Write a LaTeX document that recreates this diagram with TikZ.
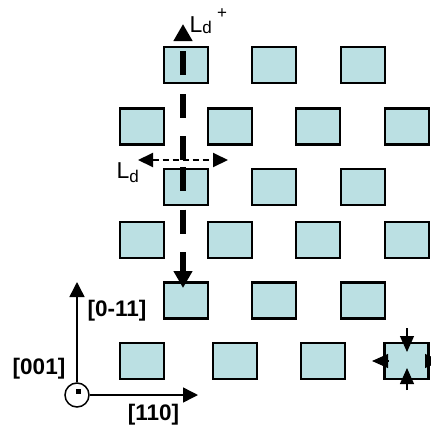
\documentclass[tikz,border=0pt]{standalone}
\usepackage{fontspec}
\setmainfont{Liberation Sans}
\usetikzlibrary{positioning,arrows.meta}
\definecolor{cell}{HTML}{BBE0E3}
\tikzset{
  isle/.style={draw=black, fill=cell, line width=2.2pt, minimum width=44pt,
               minimum height=36pt, inner sep=0pt},
  strain/.style={-{Triangle[length=17pt,width=18pt]}, line width=6pt,
                 dash pattern=on 24pt off 18.5pt},
  pitch/.style={{Triangle[length=15pt,width=14pt]}-{Triangle[length=15pt,width=14pt]},
                line width=2pt, dash pattern=on 6pt off 4pt},
  axis/.style={-{Triangle[length=15pt,width=15pt]}, line width=1.5pt},
  push/.style={-{Triangle[length=16pt,width=14pt]}, line width=1.2pt},
  dir/.style={font=\fontsize{22.5}{22.5}\selectfont\bfseries, inner sep=0pt},
  len/.style={font=\fontsize{23}{23}\selectfont, inner sep=0pt, anchor=base west},
}

\begin{document}
\begin{tikzpicture}[x=1pt, y=-1pt]
\useasboundingbox (0,0) rectangle (431,426);
% --- islands, row by row ---
\node[isle] (a1) at (186,65)  {};
\node[isle] (a2) at (274,65)  {};
\node[isle] (a3) at (363,65)  {};
\node[isle] (b1) at (142,126.5) {};
\node[isle] (b2) at (230,126.5) {};
\node[isle] (b3) at (318,126.5) {};
\node[isle] (b4) at (407,126.5) {};
\node[isle] (c1) at (186,187) {};
\node[isle] (c2) at (274,187) {};
\node[isle] (c3) at (363,187) {};
\node[isle] (d1) at (142,240) {};
\node[isle] (d2) at (230,240) {};
\node[isle] (d3) at (318,240) {};
\node[isle] (d4) at (407,240) {};
\node[isle] (e1) at (186,300.5) {};
\node[isle] (e2) at (274,300.5) {};
\node[isle] (e3) at (363,300.5) {};
\node[isle] (f1) at (142,361) {};
\node[isle] (f2) at (235,361) {};
\node[isle] (f3) at (323,361) {};
\node[isle] (f4) at (406.5,361) {};

% --- strain along the column ---
\coordinate (midup) at (183,160);
\coordinate (middn) at (183,167);
\coordinate (uptip) at (183,24);
\coordinate (dntip) at (183,288);
\draw[strain] (midup) -- (uptip);
\draw[strain] (middn) -- (dntip);
\node[len] (ldup) at (189.5,32) {L\raisebox{-1pt}{\fontsize{17}{17}\selectfont d}};
\node[inner sep=0pt, font=\fontsize{17}{17}\selectfont] (ldplus) at (222,14) {+};

% --- period in plane ---
\coordinate (ldl) at (138,160);
\coordinate (ldr) at (228,160);
\draw[pitch] (ldl) -- (ldr);
\node[len] (ldin) at (116.5,178) {L\raisebox{-4pt}{\fontsize{17}{17}\selectfont d}};

% --- stress on the corner island ---
\coordinate (ptop) at (407,328);
\coordinate (ptopx) at (407,352);
\coordinate (pbot) at (407,390);
\coordinate (pbotx) at (407,368);
\coordinate (pleft) at (388,361);
\coordinate (pleftx) at (372,361);
\coordinate (pright) at (425,361);
\coordinate (prightx) at (441,361);
\draw[push] (ptop) -- (ptopx);
\draw[push] (pbot) -- (pbotx);
\draw[push] (pleft) -- (pleftx);
\draw[push] (pright) -- (prightx);

% --- crystal axes ---
\node[circle, draw, line width=1.5pt, minimum size=24pt, inner sep=0pt] (org) at (77,395) {};
\node[fill=black, minimum size=5pt, inner sep=0pt] (dot) at (78,391) {};
\coordinate (ytip) at (77,282);
\coordinate (xtip) at (198,395);
\draw[axis] (org) -- (ytip);
\draw[axis] (org) -- (xtip);
\node[dir] (dy) at (117,310.5) {[0-11]};
\node[dir] (dz) at (39,369) {[001]};
\node[dir] (dx) at (153.5,415) {[110]};
\end{tikzpicture}
\end{document}
